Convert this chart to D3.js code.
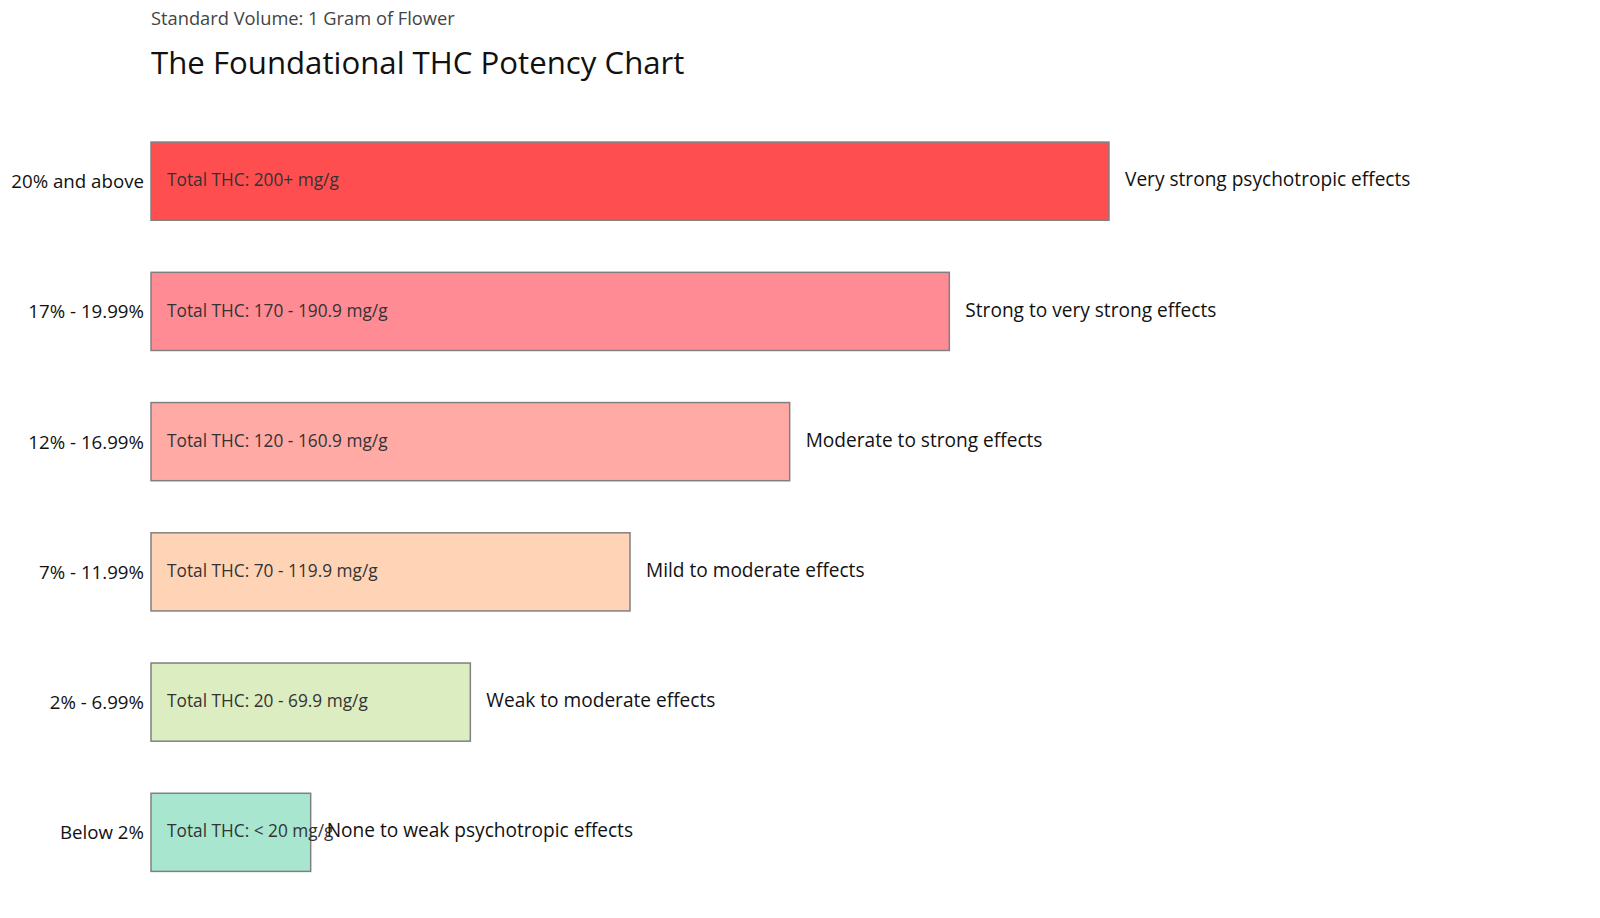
<!DOCTYPE html>
<html>
<head>
<meta charset="utf-8">
<script src="https://cdn.jsdelivr.net/npm/d3@7"></script>
<style>
  body { margin: 0; background: #fff; }
  text { font-family: "Open Sans", Lato, sans-serif; }
</style>
</head>
<body>
<script>
const categories = ["20% and above", "17% - 19.99%", "12% - 16.99%", "7% - 11.99%", "2% - 6.99%", "Below 2%"]
const levels = [6, 5, 4, 3, 2, 1]
const thcLabels = [
  "Total THC: 200+ mg/g",
  "Total THC: 170 - 190.9 mg/g",
  "Total THC: 120 - 160.9 mg/g",
  "Total THC: 70 - 119.9 mg/g",
  "Total THC: 20 - 69.9 mg/g",
  "Total THC: < 20 mg/g",
]
const effects = [
  "Very strong psychotropic effects",
  "Strong to very strong effects",
  "Moderate to strong effects",
  "Mild to moderate effects",
  "Weak to moderate effects",
  "None to weak psychotropic effects",
]
const colors = ["#ff4e50", "#ff8b94", "#ffaaa5", "#ffd3b6", "#dcedc1", "#a8e6cf"]

let w = 1600
let h = 918
const rows = categories.map((c, i) => ({ cat: c, level: levels[i], thc: thcLabels[i], effect: effects[i], color: colors[i] }))

const svg = d3.select("body").append("svg").attr("width", w).attr("height", h)

svg.append("text")
  .attr("x", 151).attr("y", 24.5)
  .attr("font-size", "18.3px").attr("fill", "#444")
  .text("Standard Volume: 1 Gram of Flower")

svg.append("text")
  .attr("x", 151).attr("y", 74)
  .attr("font-size", "31.2px").attr("fill", "#111")
  .text("The Foundational THC Potency Chart")

const xScale = d3.scaleLinear()
  .domain([0, d3.max(levels)])
  .range([151, 1109])

const yScale = d3.scaleBand()
  .domain(categories)
  .range([90, 923.5])
  .padding(0.4)

const g = svg.selectAll("g.row")
  .data(rows)
  .enter()
  .append("g")
  .attr("class", "row")

g.append("rect")
  .attr("x", xScale(0))
  .attr("y", (d) => yScale(d.cat))
  .attr("width", (d) => xScale(d.level) - xScale(0))
  .attr("height", yScale.bandwidth())
  .attr("fill", (d) => d.color)
  .attr("stroke", "#808080")
  .attr("stroke-width", 1.5)

g.append("text")
  .attr("x", xScale(0) - 7)
  .attr("y", (d) => yScale(d.cat) + yScale.bandwidth() / 2 + 2)
  .attr("text-anchor", "end")
  .attr("dominant-baseline", "middle")
  .attr("font-size", "18.7px")
  .attr("fill", "#111")
  .text((d) => d.cat)

g.append("text")
  .attr("x", xScale(0) + 16)
  .attr("y", (d) => yScale(d.cat) + yScale.bandwidth() / 2 + 0.5)
  .attr("dominant-baseline", "middle")
  .attr("font-size", "17.3px")
  .attr("fill", "#333")
  .text((d) => d.thc)

g.append("text")
  .attr("x", (d) => xScale(d.level) + 16)
  .attr("y", (d) => yScale(d.cat) + yScale.bandwidth() / 2)
  .attr("dominant-baseline", "middle")
  .attr("font-size", "19.1px")
  .attr("fill", "#111")
  .text((d) => d.effect)
</script>
</body>
</html>
